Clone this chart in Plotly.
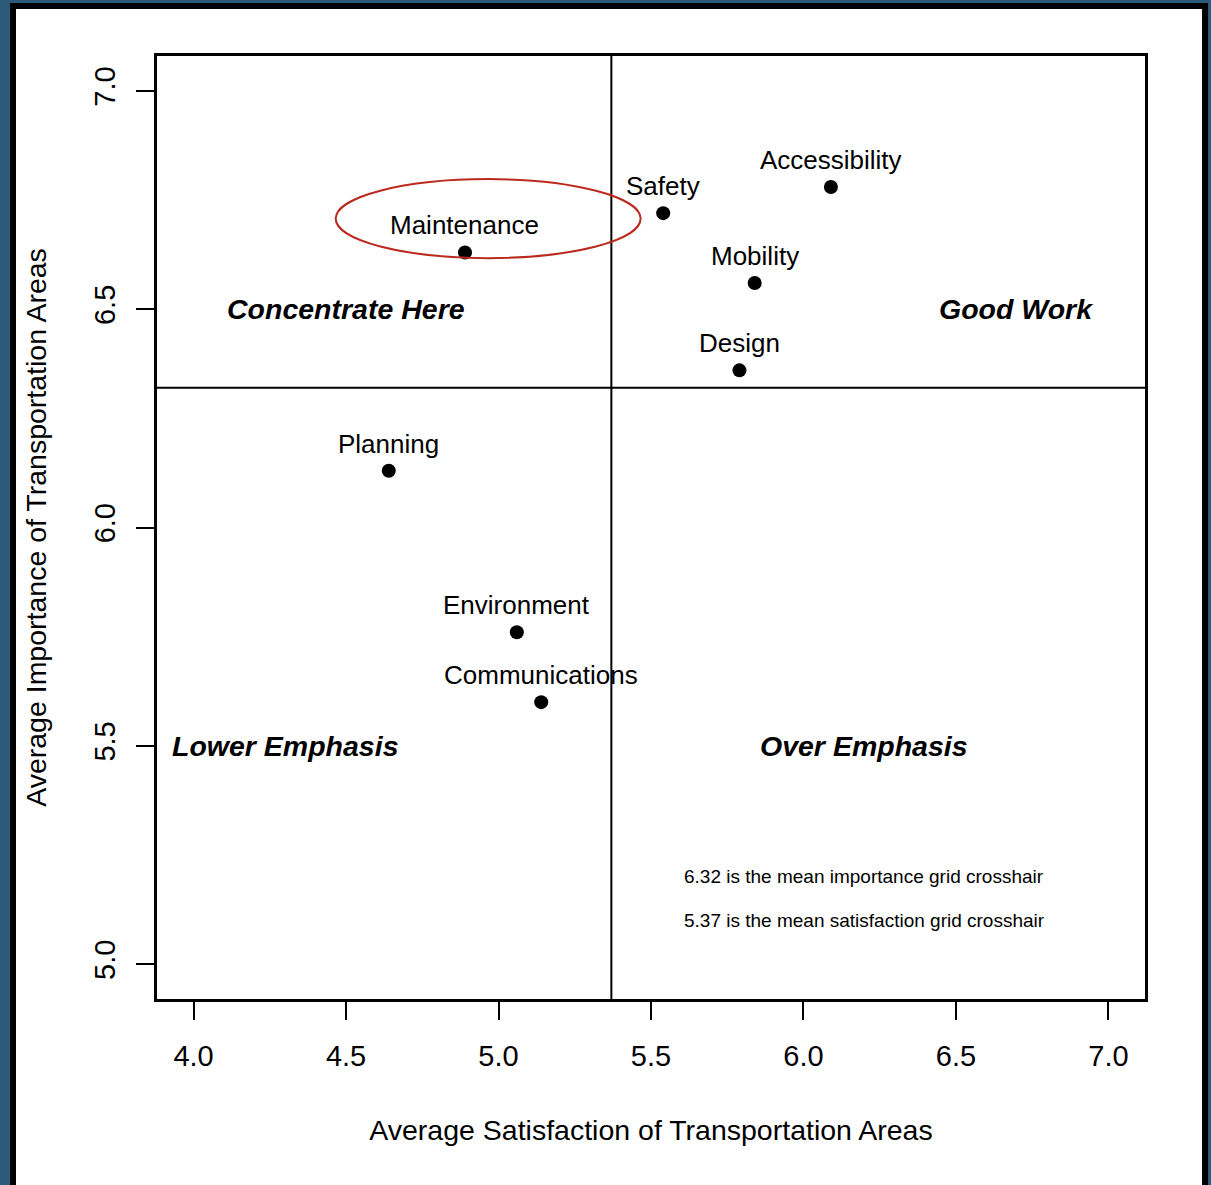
import plotly.graph_objects as go

# ---- data ----
areas = ["Maintenance", "Safety", "Accessibility", "Mobility", "Design",
         "Planning", "Environment", "Communications"]
satisfaction = [4.89, 5.54, 6.09, 5.84, 5.79, 4.64, 5.06, 5.14]
importance = [6.63, 6.72, 6.78, 6.56, 6.36, 6.13, 5.76, 5.60]

mean_satisfaction = 5.37
mean_importance = 6.32

quadrant_labels = ["Concentrate Here", "Good Work", "Lower Emphasis", "Over Emphasis"]
quadrant_x = [4.5, 6.7, 4.3, 6.2]
quadrant_y = [6.5, 6.5, 5.5, 5.5]

note_texts = ["6.32 is the mean importance grid crosshair",
              "5.37 is the mean satisfaction grid crosshair"]
note_x = [6.2, 6.2]
note_y = [5.2, 5.1]

# highlighted region around Maintenance
ellipse_x = [4.466, 5.466]
ellipse_y = [6.617, 6.798]

x_ticks = [4.0, 4.5, 5.0, 5.5, 6.0, 6.5, 7.0]
y_ticks = [5.0, 5.5, 6.0, 6.5, 7.0]

# ---- layout geometry (pixels) ----
W, H = 1211, 1185
ML, MR, MT, MB = 157, 66, 56, 186
PW = W - ML - MR
PH = H - MT - MB

def px(x):
    return (x - ML) / PW

def py(y):
    return (H - MB - y) / PH

FONT = "Liberation Sans, Arial, sans-serif"

fig = go.Figure()
fig.add_trace(go.Scatter(
    x=satisfaction, y=importance, mode="markers",
    marker=dict(color="black", size=14),
    hoverinfo="skip", showlegend=False,
))

annotations = []
for name, xv, yv in zip(areas, satisfaction, importance):
    annotations.append(dict(x=xv, y=yv, text=name, showarrow=False,
                            xanchor="center", yanchor="middle", yshift=27,
                            font=dict(family=FONT, size=26, color="black")))
for t, xv, yv in zip(quadrant_labels, quadrant_x, quadrant_y):
    annotations.append(dict(x=xv, y=yv, text="<b><i>" + t + "</i></b>", showarrow=False,
                            xanchor="center", yanchor="middle",
                            font=dict(family=FONT, size=28.5, color="black")))
for t, xv, yv in zip(note_texts, note_x, note_y):
    annotations.append(dict(x=xv, y=yv, text=t, showarrow=False,
                            xanchor="center", yanchor="middle",
                            font=dict(family=FONT, size=19, color="black")))

shapes = [
    # outer frame: black border then white page
    dict(type="rect", xref="paper", yref="paper", layer="below",
         x0=px(10), x1=px(1208), y0=py(1300), y1=py(3),
         fillcolor="black", line=dict(width=0)),
    dict(type="rect", xref="paper", yref="paper", layer="below",
         x0=px(16), x1=px(1202), y0=py(1300), y1=py(9),
         fillcolor="white", line=dict(width=0)),
    # crosshairs
    dict(type="line", xref="x", yref="paper", x0=mean_satisfaction, x1=mean_satisfaction,
         y0=0, y1=1, line=dict(color="black", width=2)),
    dict(type="line", xref="paper", yref="y", x0=0, x1=1,
         y0=mean_importance, y1=mean_importance, line=dict(color="black", width=2)),
    # ellipse highlight
    dict(type="circle", xref="x", yref="y", x0=ellipse_x[0], x1=ellipse_x[1],
         y0=ellipse_y[0], y1=ellipse_y[1], line=dict(color="#bb2a1e", width=2)),
]

axis_common = dict(
    showgrid=False, zeroline=False, showline=True, mirror=True,
    linecolor="black", linewidth=2.5,
    ticks="outside", ticklen=18, tickwidth=2, tickcolor="black",
    tickfont=dict(family=FONT, size=29, color="black"),
)

fig.update_layout(
    width=W, height=H,
    margin=dict(l=ML, r=MR, t=MT, b=MB, pad=0),
    paper_bgcolor="#2c5a7b",
    plot_bgcolor="white",
    font=dict(family=FONT, color="black"),
    xaxis=dict(range=[3.88, 7.12], tickvals=x_ticks,
               ticktext=[f"{v:.1f}" for v in x_ticks],
               title=dict(text="Average Satisfaction of Transportation Areas",
                          font=dict(family=FONT, size=28.5, color="black"), standoff=50),
               ticklabelstandoff=11,
               **axis_common),
    yaxis=dict(range=[4.92, 7.08], tickvals=y_ticks,
               ticktext=[f"{v:.1f}" for v in y_ticks], tickangle=-90,
               title=dict(text="Average Importance of Transportation Areas",
                          font=dict(family=FONT, size=28.5, color="black"), standoff=34),
               ticklabelstandoff=10,
               **axis_common),
    annotations=annotations,
    shapes=shapes,
    showlegend=False,
)

fig.write_html("out.html", config={"displayModeBar": False},
               post_script="document.body.style.margin='0';document.body.style.overflow='hidden';")
